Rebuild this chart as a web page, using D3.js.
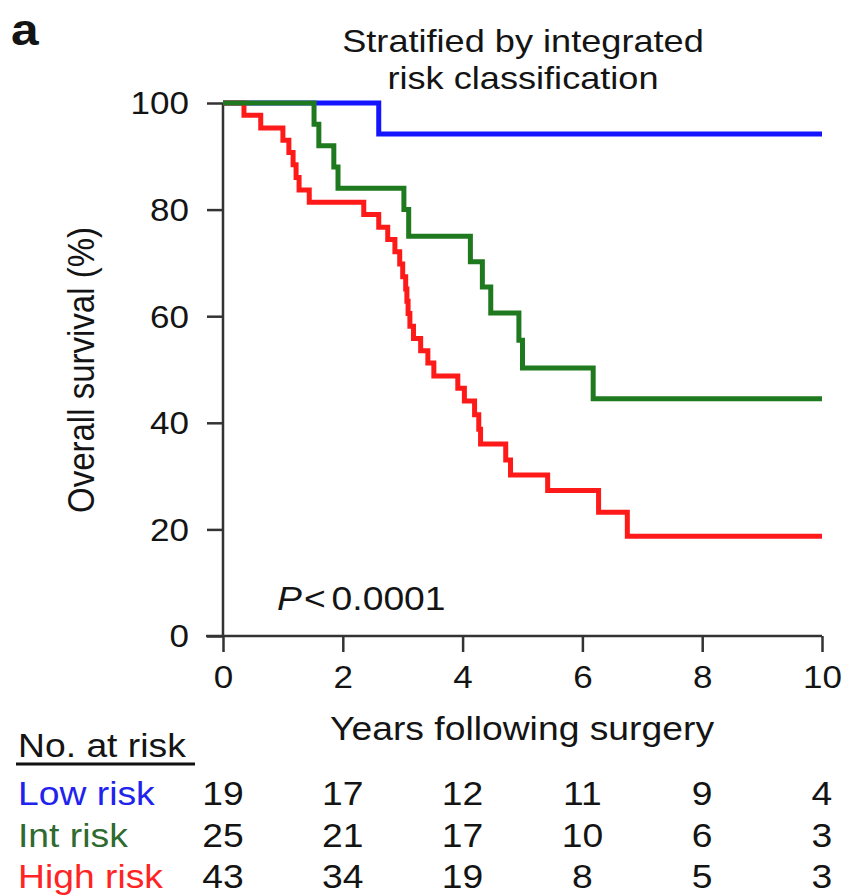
<!DOCTYPE html>
<html>
<head>
<meta charset="utf-8">
<script src="https://cdn.jsdelivr.net/npm/d3@7"></script>
<style>
  html, body { margin: 0; padding: 0; background: #fff; }
  svg { display: block; }
  text { font-family: "Liberation Sans", Arial, Helvetica, sans-serif; fill: #141414; }
</style>
</head>
<body>
<svg id="chart" width="843" height="895"></svg>
<script>
// Kaplan–Meier overall survival by integrated risk group
const groups = ["Low risk", "Int risk", "High risk"];
const groupColors = ["#1414ff", "#1f7a1f", "#ff1a1a"];
const labelColors = ["#2222ee", "#2f6a2f", "#ff2424"];

// step times (years) and survival (%) after each step
const lowTime  = [0, 2.6];
const lowSurv  = [100, 94.2];
const intTime  = [0, 1.52, 1.6, 1.85, 1.92, 3.02, 3.1, 4.13, 4.33, 4.47, 4.94, 5.0, 6.18];
const intSurv  = [100, 96, 92, 88, 84, 80, 75, 70.2, 65.5, 60.6, 55.5, 50.3, 44.5];
const highTime = [0, 0.35, 0.63, 1.0, 1.1, 1.17, 1.22, 1.27, 1.44, 2.35, 2.6, 2.75, 2.87, 2.95, 3.0, 3.05, 3.07, 3.09, 3.12, 3.18, 3.3, 3.42, 3.52, 3.92, 4.03, 4.2, 4.27, 4.3, 4.72, 4.8, 5.42, 6.27, 6.75];
const highSurv = [100, 97.7, 95.3, 93.0, 90.7, 88.4, 86.0, 83.7, 81.4, 79.1, 76.7, 74.4, 72.1, 69.8, 67.4, 65.1, 62.8, 60.5, 58.1, 55.8, 53.5, 51.2, 48.8, 46.5, 44.1, 41.5, 38.8, 36.0, 33.0, 30.2, 27.3, 23.2, 18.7];
const followUpEnd = 10;

// axis ticks and number-at-risk table
const xTicks = [0, 2, 4, 6, 8, 10];
const yTicks = [0, 20, 40, 60, 80, 100];
const atRiskLow  = [19, 17, 12, 11, 9, 4];
const atRiskInt  = [25, 21, 17, 10, 6, 3];
const atRiskHigh = [43, 34, 19, 8, 5, 3];

const pValueText = "0.0001";

const SX = 1.13; // horizontal glyph stretch used for all text

const svg = d3.select("#chart");
const x = d3.scaleLinear().domain([0, 10]).range([223, 822]);
const y = d3.scaleLinear().domain([0, 100]).range([636, 103]);

function label(g, tx, ty, str, opts = {}) {
  const t = g.append("text")
    .attr("transform", `translate(${tx},${ty}) scale(${SX},1)`)
    .attr("text-anchor", opts.anchor || "start")
    .style("font-size", (opts.size || 33) + "px")
    .text(str);
  if (opts.weight) t.style("font-weight", opts.weight);
  if (opts.fill) t.style("fill", opts.fill);
  return t;
}

// panel letter and title
label(svg, 11, 45, "a", { size: 44, weight: "bold" });
label(svg, 523, 52, "Stratified by integrated", { anchor: "middle", size: 32 });
label(svg, 523, 89, "risk classification", { anchor: "middle", size: 32 });

// axes
const axisColor = "#333";
const yAxis = d3.axisLeft(y).tickValues(yTicks).tickSize(16).tickPadding(18).tickFormat(d3.format("d"));
const gy = svg.append("g").attr("transform", `translate(${x(0)},0)`).call(yAxis);
gy.select(".domain").attr("d", `M0,${y(100)}V${y(0)}`);
const xAxis = d3.axisBottom(x).tickValues(xTicks).tickSize(16).tickPadding(14).tickFormat(d3.format("d"));
const gx = svg.append("g").attr("transform", `translate(0,${y(0)})`).call(xAxis);
gx.select(".domain").attr("d", `M${x(0) - 17},0H${x(10)}`);

[gx, gy].forEach(g => {
  g.selectAll(".domain, .tick line").attr("stroke", axisColor).attr("stroke-width", 2.5);
  g.selectAll(".tick text")
    .style("font-size", "31px")
    .style("font-family", '"Liberation Sans", Arial, sans-serif')
    .attr("fill", "#141414");
});
// stretch tick labels horizontally around their anchor
gy.selectAll(".tick text").attr("transform", function () {
  const tx = +d3.select(this).attr("x");
  return `translate(${tx},0) scale(${SX},1) translate(${-tx},0)`;
}).attr("dy", "0.35em");
gx.selectAll(".tick text").attr("transform", `scale(${SX},1)`);

// axis titles
svg.append("text")
  .attr("transform", `translate(94,370) scale(${SX},1) rotate(-90)`)
  .attr("text-anchor", "middle")
  .style("font-size", "33px")
  .text("Overall survival (%)");
label(svg, 522, 740, "Years following surgery", { anchor: "middle", size: 33 });

// survival curves
const series = [
  { t: lowTime, s: lowSurv, c: groupColors[0] },
  { t: highTime, s: highSurv, c: groupColors[2] },
  { t: intTime, s: intSurv, c: groupColors[1] }
];
const line = d3.line().x(d => x(d[0])).y(d => y(d[1])).curve(d3.curveStepAfter);
series.forEach(sr => {
  const pts = sr.t.map((t, i) => [t, sr.s[i]]);
  pts.push([followUpEnd, sr.s[sr.s.length - 1]]);
  svg.append("path")
    .datum(pts)
    .attr("d", line)
    .attr("fill", "none")
    .attr("stroke", sr.c)
    .attr("stroke-width", 5)
    .attr("stroke-linejoin", "miter")
    .attr("stroke-linecap", "butt");
});

// P value
const pt = svg.append("text")
  .attr("transform", `translate(277,610) scale(${SX},1)`)
  .style("font-size", "33px");
pt.append("tspan").style("font-style", "italic").text("P");
pt.append("tspan").attr("dx", 2).text("<");
pt.append("tspan").attr("dx", 5).text(pValueText);

// number at risk table
label(svg, 18, 757, "No. at risk", { size: 33 });
svg.append("line")
  .attr("x1", 16).attr("x2", 195).attr("y1", 764).attr("y2", 764)
  .attr("stroke", "#111").attr("stroke-width", 3);

const tableRows = [atRiskLow, atRiskInt, atRiskHigh];
const rowBase = [805, 847, 888];
tableRows.forEach((row, r) => {
  label(svg, 18, rowBase[r], groups[r], { size: 33, fill: labelColors[r] });
  row.forEach((n, i) => {
    label(svg, x(xTicks[i]), rowBase[r], String(n), { anchor: "middle", size: 33 });
  });
});
</script>
</body>
</html>
